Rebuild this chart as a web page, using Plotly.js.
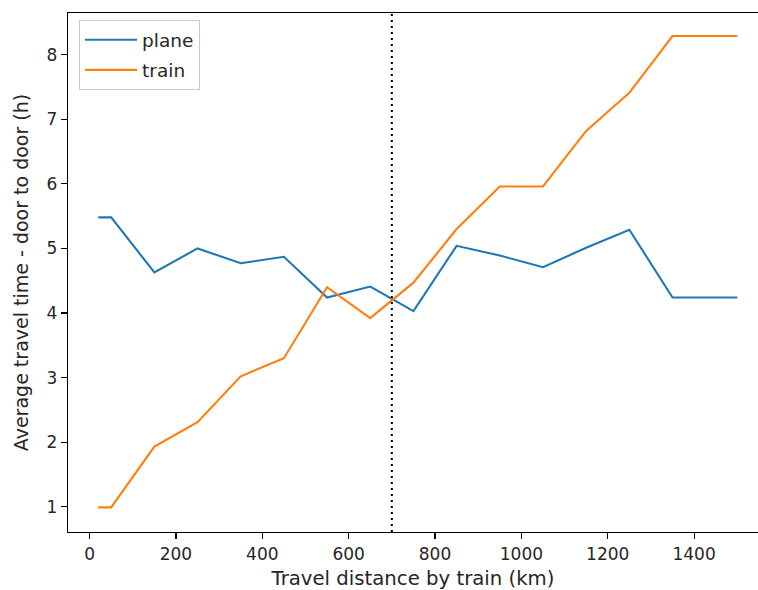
<!DOCTYPE html>
<html>
<head>
<meta charset="utf-8">
<script src="https://cdn.plot.ly/plotly-3.0.1.min.js"></script>
<style>html,body{margin:0;padding:0;background:#fff;} #chart{width:758px;height:590px;}</style>
</head>
<body>
<div id="chart"></div>
<script>
const distances = [20, 50, 150, 250, 350, 450, 550, 650, 750, 850, 950, 1050, 1150, 1250, 1350, 1500];
const planeHours = [5.48, 5.48, 4.63, 5.00, 4.77, 4.87, 4.24, 4.41, 4.03, 5.04, 4.89, 4.71, 5.01, 5.29, 4.24, 4.24];
const trainHours = [0.99, 0.99, 1.93, 2.31, 3.02, 3.30, 4.40, 3.92, 4.47, 5.30, 5.96, 5.96, 6.82, 7.41, 8.29, 8.29];
const seriesNames = ["plane", "train"];
const thresholdKm = [700];
const xTickVals = [0, 200, 400, 600, 800, 1000, 1200, 1400];
const yTickVals = [1, 2, 3, 4, 5, 6, 7, 8];

const fam = "DejaVu Sans";
const tickFont = {family: fam, size: 17, color: "#262626"};

const traces = [
  {x: distances, y: planeHours, name: seriesNames[0], legendgroup: "a", mode: "lines", line: {color: "#1f77b4", width: 2.1}},
  {x: distances, y: trainHours, name: seriesNames[1], legendgroup: "b", mode: "lines", line: {color: "#ff7f0e", width: 2.1}}
];

const layout = {
  width: 758, height: 590,
  margin: {l: 68, r: 0, t: 13, b: 58},
  paper_bgcolor: "#fff", plot_bgcolor: "#fff",
  font: tickFont,
  showlegend: true,
  legend: {
    x: 0.016, y: 0.986, xanchor: "left", yanchor: "top",
    bgcolor: "rgba(255,255,255,0.8)", bordercolor: "#cccccc", borderwidth: 1,
    font: {family: fam, size: 18.5, color: "#262626"},
    traceorder: "grouped", tracegroupgap: 3, itemwidth: 52
  },
  xaxis: {
    range: [-50, 1548],
    tickvals: xTickVals,
    ticks: "outside", ticklen: 6, tickwidth: 1.1, tickcolor: "#000",
    showline: true, linecolor: "#000", linewidth: 1.2, mirror: true,
    showgrid: false, zeroline: false, tickfont: tickFont,
    title: {text: "Travel distance by train (km)", font: {family: fam, size: 19.7, color: "#262626"}, standoff: 11}
  },
  yaxis: {
    range: [0.608, 8.646],
    tickvals: yTickVals,
    ticks: "outside", ticklen: 6, tickwidth: 1.1, tickcolor: "#000",
    showline: true, linecolor: "#000", linewidth: 1.2, mirror: false,
    showgrid: false, zeroline: false, tickfont: tickFont,
    title: {text: "Average travel time - door to door (h)", font: {family: fam, size: 19, color: "#262626"}, standoff: 13}
  },
  shapes: thresholdKm.map(v => ({
    type: "line", xref: "x", yref: "paper", x0: v, x1: v, y0: 0, y1: 1,
    line: {color: "#000", width: 2, dash: "2px,4px"}
  }))
};

Plotly.newPlot("chart", traces, layout, {displayModeBar: false, staticPlot: true});
</script>
</body>
</html>
